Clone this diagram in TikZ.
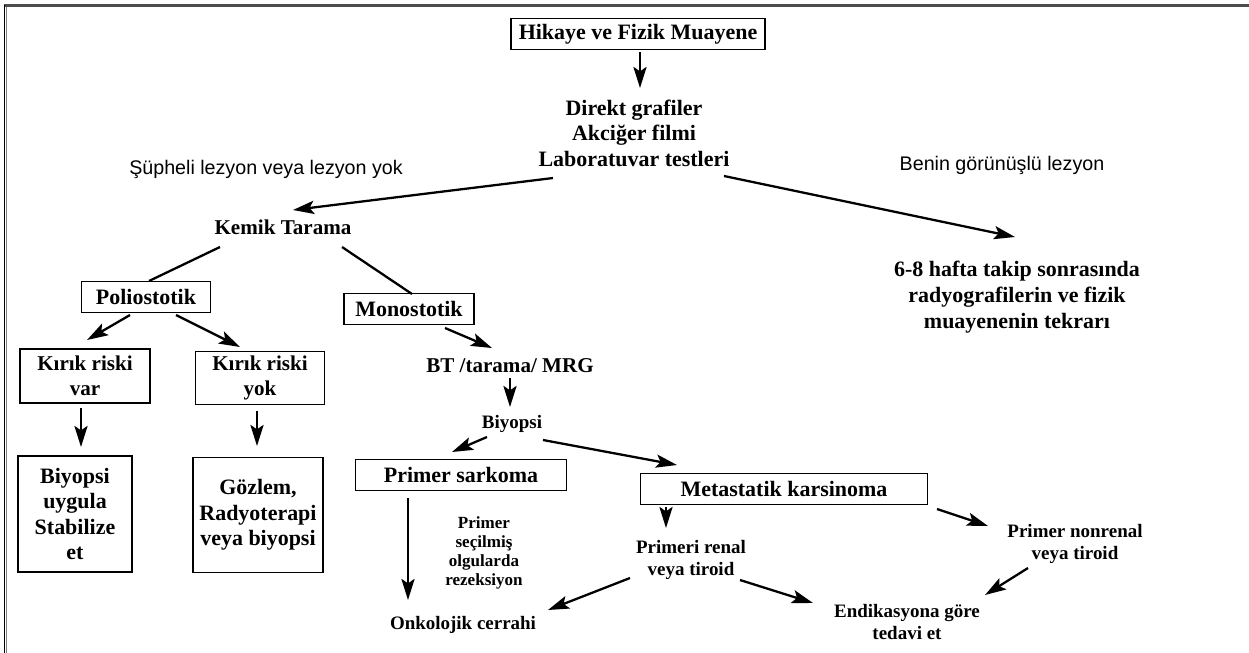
\documentclass[tikz,border=0pt]{standalone}
\usepackage{fontspec}
\setmainfont{Liberation Serif}
\newfontfamily\etiketfont{Liberation Sans}
\usetikzlibrary{arrows.meta}

\begin{document}
\begin{tikzpicture}[x=0.02cm,y=-0.02cm,>={Stealth[length=12pt,width=7.5pt,inset=2.5pt]},
	box/.style={draw,line width=0.9pt,font=\fontsize{12.5}{14.5}\selectfont\bfseries,align=center,inner sep=0pt},
	txt/.style={font=\fontsize{12.5}{14.5}\selectfont\bfseries,align=center,inner sep=0pt},
	mid/.style={font=\fontsize{10.8}{12.3}\selectfont\bfseries,align=center,inner sep=0pt},
	small/.style={font=\fontsize{9.7}{10.8}\selectfont\bfseries,align=center,inner sep=0pt},
	note/.style={font=\etiketfont\fontsize{11.2}{13}\selectfont,inner sep=0pt},
	arr/.style={->,line width=1.3pt},
	conn/.style={line width=1.3pt}]
	\useasboundingbox (0,0) rectangle (1249,653);
	% frame
	\draw[gray!60!black,line width=1.2pt] (4,5.5) -- (1249,5.5);
	\draw[line width=0.6pt] (4.5,5) -- (4.5,653);
	\draw[gray,line width=0.6pt] (6.5,7) -- (6.5,653);
	% top
	\node[box,minimum width=5.08cm,minimum height=0.62cm] (hik) at (638,34) {Hikaye ve Fizik Muayene};
	\node[txt] (dir) at (634,133) {Direkt grafiler\\Akciğer filmi\\Laboratuvar testleri};
	\node[note] (sup) at (266,169) {Şüpheli lezyon veya lezyon yok};
	\node[note] (ben) at (1002,165) {Benin görünüşlü lezyon};
	\node[txt,font=\fontsize{12}{14}\selectfont\bfseries] (kem) at (283,227) {Kemik Tarama};
	\node[txt,font=\fontsize{12.5}{15}\selectfont\bfseries] (takip) at (1017,297) {6-8 hafta takip sonrasında\\radyografilerin ve fizik\\muayenenin tekrarı};
	% left branch
	\node[box,minimum width=2.58cm,minimum height=0.62cm] (poli) at (146,297) {Poliostotik};
	\node[box,minimum width=2.6cm,minimum height=0.62cm] (mono) at (409,309) {Monostotik};
	\node[box,font=\fontsize{12}{14.5}\selectfont\bfseries,minimum width=2.6cm,minimum height=1.08cm] (kvar) at (85,376) {Kırık riski\\var};
	\node[box,font=\fontsize{12}{14.5}\selectfont\bfseries,minimum width=2.58cm,minimum height=1.06cm] (kyok) at (260,378) {Kırık riski\\yok};
	\node[box,minimum width=2.28cm,minimum height=2.32cm] (biy1) at (75,514) {Biyopsi\\uygula\\Stabilize\\et};
	\node[box,minimum width=2.6cm,minimum height=2.3cm] (goz) at (258,515) {Gözlem,\\Radyoterapi\\veya biyopsi};
	% monostotik branch
	\node[txt,font=\fontsize{12}{14}\selectfont\bfseries] (bt) at (510,366) {BT /tarama/ MRG};
	\node[mid] (biy) at (512,424) {Biyopsi};
	\node[box,minimum width=4.22cm,minimum height=0.62cm] (sark) at (461,475) {Primer sarkoma};
	\node[box,minimum width=5.74cm,minimum height=0.62cm] (meta) at (784,489) {Metastatik karsinoma};
	\node[small] (rez) at (484,553) {Primer\\seçilmiş\\olgularda\\rezeksiyon};
	\node[mid] (onk) at (463,625) {Onkolojik cerrahi};
	\node[mid] (renal) at (691,560) {Primeri renal\\veya tiroid};
	\node[mid] (endik) at (907,622) {Endikasyona göre\\tedavi et};
	\node[mid] (nonrenal) at (1075,544) {Primer nonrenal\\veya tiroid};
	% connectors
	\draw[arr] ([shift={(2,18)}]hik.center) -- ([shift={(6,-45)}]dir.center);
	\draw[arr] ([shift={(-81,45)}]dir.center) -- ([shift={(10,-17)}]kem.center);
	\draw[arr] ([shift={(90,43)}]dir.center) -- ([shift={(-2,-60)}]takip.center);
	\draw[conn] ([shift={(-63,20)}]kem.center) -- ([shift={(3,-16)}]poli.center);
	\draw[conn] ([shift={(59,20)}]kem.center) -- ([shift={(3,-15)}]mono.center);
	\draw[arr] ([shift={(-16,18)}]poli.center) -- ([shift={(2,-36)}]kvar.center);
	\draw[arr] ([shift={(30,18)}]poli.center) -- ([shift={(-20,-31)}]kyok.center);
	\draw[arr] ([shift={(-4,32)}]kvar.center) -- ([shift={(6,-67)}]biy1.center);
	\draw[arr] ([shift={(-3,33)}]kyok.center) -- ([shift={(-1,-69)}]goz.center);
	\draw[arr] ([shift={(36,19)}]mono.center) -- ([shift={(-18,-18)}]bt.center);
	\draw[arr] ([shift={(0,12)}]bt.center) -- ([shift={(-2,-17)}]biy.center);
	\draw[arr] ([shift={(-25,13)}]biy.center) -- ([shift={(-9,-23)}]sark.center);
	\draw[arr] ([shift={(31,16)}]biy.center) -- ([shift={(-107,-24)}]meta.center);
	\draw[arr] ([shift={(-53,23)}]sark.center) -- ([shift={(-55,-25)}]onk.center);
	\draw[arr] ([shift={(-118,18)}]meta.center) -- ([shift={(-25,-32)}]renal.center);
	\draw[arr] ([shift={(-61,18)}]renal.center) -- ([shift={(85,-15)}]onk.center);
	\draw[arr] ([shift={(49,20)}]renal.center) -- ([shift={(-94,-19)}]endik.center);
	\draw[arr] ([shift={(153,20)}]meta.center) -- ([shift={(-87,-18)}]nonrenal.center);
	\draw[arr] ([shift={(-47,24)}]nonrenal.center) -- ([shift={(78,-27)}]endik.center);
\end{tikzpicture}
\end{document}
